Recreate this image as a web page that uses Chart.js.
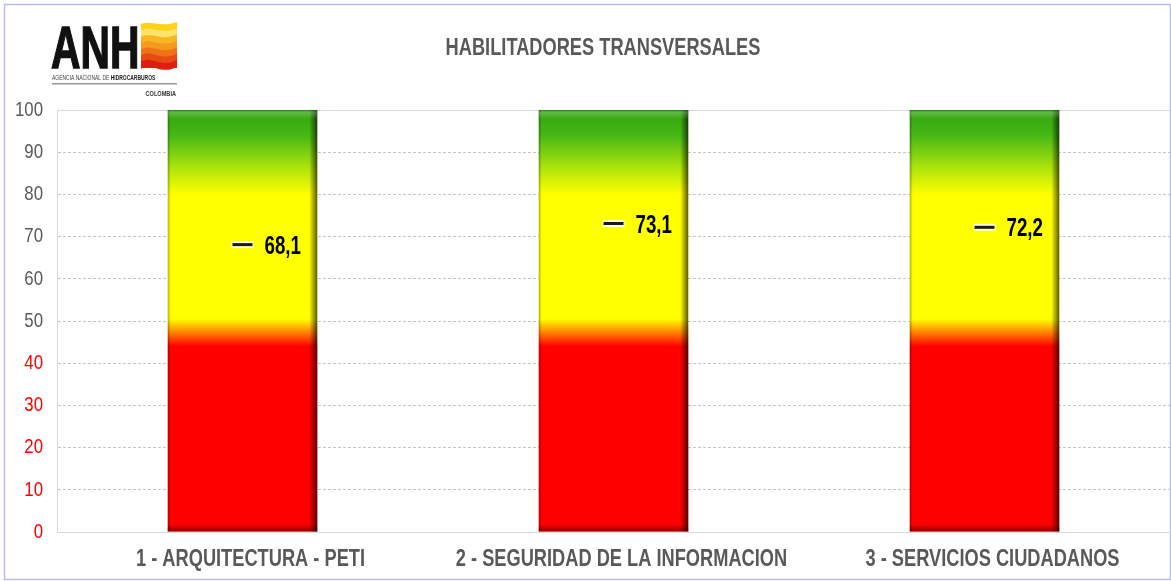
<!DOCTYPE html>
<html>
<head>
<meta charset="utf-8">
<script src="https://cdn.jsdelivr.net/npm/chart.js@4.4.0/dist/chart.umd.min.js"></script>
<style>
  html, body { margin: 0; padding: 0; background: #fff; }
  #wrap { width: 1171px; height: 581px; }
</style>
</head>
<body>
<div id="wrap"><canvas id="habChart" width="1171" height="581"></canvas></div>
<script>
const categories = ["1 - ARQUITECTURA - PETI", "2 - SEGURIDAD DE LA INFORMACION", "3 - SERVICIOS CIUDADANOS"];
const scaleTop = [100, 100, 100];
const scores = [68.1, 73.1, 72.2];
const yTicks = [0, 10, 20, 30, 40, 50, 60, 70, 80, 90, 100];

const sans = '"Liberation Sans", Arial, sans-serif';

// the source uses a narrow face, so squeeze Liberation Sans sideways
function narrowText(ctx, text, x, y, sx, align) {
    ctx.save();
    ctx.translate(x, y);
    ctx.scale(sx, 1);
    ctx.textAlign = align;
    ctx.fillText(text, 0, 0);
    ctx.restore();
}

function bandGradient(chart) {
    const area = chart.chartArea;
    if (!area) return '#ffff00';
    const g = chart.ctx.createLinearGradient(0, area.bottom, 0, area.top);
    g.addColorStop(0, '#ff0000');
    g.addColorStop(0.44, '#ff0000');
    g.addColorStop(0.475, '#ff8a00');
    g.addColorStop(0.505, '#ffff00');
    g.addColorStop(0.80, '#ffff00');
    g.addColorStop(0.87, '#a4e00c');
    g.addColorStop(0.94, '#46b814');
    g.addColorStop(1, '#30a410');
    return g;
}

// bevel look on the band bars
const bevel = {
    id: 'bevel',
    afterDatasetDraw(chart, args) {
        if (args.index !== 0) return;
        const ctx = chart.ctx;
        args.meta.data.forEach(bar => {
            const l = bar.x - bar.width / 2, r = bar.x + bar.width / 2;
            const t = bar.y, b = bar.base;
            ctx.save();
            let g = ctx.createLinearGradient(r - 8, 0, r, 0);
            g.addColorStop(0, 'rgba(0,0,0,0)');
            g.addColorStop(1, 'rgba(0,0,0,0.65)');
            ctx.fillStyle = g;
            ctx.fillRect(r - 8, t, 8, b - t);
            g = ctx.createLinearGradient(l, 0, l + 3, 0);
            g.addColorStop(0, 'rgba(0,0,0,0.3)');
            g.addColorStop(1, 'rgba(0,0,0,0)');
            ctx.fillStyle = g;
            ctx.fillRect(l, t, 3, b - t);
            g = ctx.createLinearGradient(0, b - 7, 0, b);
            g.addColorStop(0, 'rgba(0,0,0,0)');
            g.addColorStop(1, 'rgba(70,0,0,0.55)');
            ctx.fillStyle = g;
            ctx.fillRect(l, b - 7, r - l, 7);
            g = ctx.createLinearGradient(0, t, 0, t + 9);
            g.addColorStop(0, 'rgba(0,90,0,0.45)');
            g.addColorStop(0.3, 'rgba(255,255,255,0.22)');
            g.addColorStop(1, 'rgba(255,255,255,0)');
            ctx.fillStyle = g;
            ctx.fillRect(l, t, r - l, 9);
            ctx.restore();
        });
    }
};

// axis labels, drawn from the scales' own tick positions
const axisLabels = {
    id: 'axisLabels',
    afterDraw(chart) {
        const ctx = chart.ctx, xs = chart.scales.x, ys = chart.scales.y;
        ctx.save();
        ctx.textBaseline = 'middle';
        ctx.font = 'bold 24px ' + sans;
        ctx.fillStyle = '#595959';
        categories.forEach((c, i) => {
            narrowText(ctx, c, xs.getPixelForTick(i) + 8, 559, 0.76, 'center');
        });
        ctx.font = '21px ' + sans;
        ys.ticks.forEach(t => {
            ctx.fillStyle = t.value < 50 ? '#ff0000' : '#595959';
            narrowText(ctx, String(t.value), 43, ys.getPixelForValue(t.value), 0.8, 'right');
        });
        ctx.restore();
    }
};

// value labels next to the dashes
const valueLabels = {
    id: 'valueLabels',
    afterDatasetsDraw(chart) {
        const ctx = chart.ctx;
        const meta = chart.getDatasetMeta(2);
        ctx.save();
        ctx.font = 'bold 26px ' + sans;
        ctx.fillStyle = '#000';
        ctx.textBaseline = 'middle';
        meta.data.forEach((pt, i) => {
            narrowText(ctx, scores[i].toFixed(1).replace('.', ','), pt.x + 22, pt.y + 2, 0.72, 'left');
        });
        ctx.restore();
    }
};

// frame, title, logo, top grid line
const decor = {
    id: 'decor',
    beforeDraw(chart) {
        const ctx = chart.ctx;
        ctx.save();
        ctx.fillStyle = '#fff';
        ctx.fillRect(0, 0, chart.width, chart.height);
        ctx.strokeStyle = '#babaf2';
        ctx.lineWidth = 1.5;
        ctx.strokeRect(4.5, 4.5, 1166, 575);
        ctx.restore();
    },
    beforeDatasetsDraw(chart) {
        const ctx = chart.ctx, area = chart.chartArea;
        const y = Math.round(chart.scales.y.getPixelForValue(100)) + 0.5;
        ctx.save();
        ctx.strokeStyle = '#d9d9d9';
        ctx.lineWidth = 1;
        ctx.beginPath();
        ctx.moveTo(area.left, y);
        ctx.lineTo(area.right, y);
        ctx.stroke();
        ctx.restore();
    },
    afterDraw(chart) {
        const ctx = chart.ctx;
        ctx.save();
        ctx.textBaseline = 'alphabetic';
        // title
        ctx.font = 'bold 24px ' + sans;
        ctx.fillStyle = '#595959';
        narrowText(ctx, 'HABILITADORES TRANSVERSALES', 603, 55, 0.76, 'center');

        // logo letters
        ctx.font = 'bold 60px ' + sans;
        ctx.fillStyle = '#111';
        ctx.strokeStyle = '#111';
        ctx.lineWidth = 1.5;
        ctx.save();
        ctx.translate(51, 68);
        ctx.scale(0.68, 1);
        ctx.fillText('ANH', 0, 0);
        ctx.strokeText('ANH', 0, 0);
        ctx.restore();

        // logo stripes
        const stripes = ['#ffd21a', '#fde36a', '#f8b623', '#f49b1e', '#ef7418', '#e84a14', '#df1e12'];
        const sx = 141, sw = 36, sy = 24, sh = 44;
        const step = sh / stripes.length;
        stripes.forEach((c, i) => {
            const y0 = sy + i * step, y1 = y0 + step + 0.7;
            const w = 4 + i * 0.5;
            ctx.fillStyle = c;
            ctx.beginPath();
            ctx.moveTo(sx, y0);
            ctx.bezierCurveTo(sx + sw * 0.3, y0 - w, sx + sw * 0.55, y0 + w, sx + sw, y0 - 2);
            ctx.lineTo(sx + sw, y1 - 2);
            ctx.bezierCurveTo(sx + sw * 0.55, y1 + w, sx + sw * 0.3, y1 - w, sx, y1);
            ctx.closePath();
            ctx.fill();
        });
        ctx.fillStyle = '#df1e12';
        ctx.fillRect(sx, sy + sh - 5, sw, 5);

        // logo captions
        ctx.font = '8px ' + sans;
        ctx.fillStyle = '#444';
        const cap1 = 'AGENCIA NACIONAL DE ';
        narrowText(ctx, cap1, 52, 80, 0.62, 'left');
        const w1 = ctx.measureText(cap1).width * 0.62;
        ctx.font = 'bold 8px ' + sans;
        ctx.fillStyle = '#222';
        narrowText(ctx, 'HIDROCARBUROS', 52 + w1, 80, 0.62, 'left');
        ctx.fillStyle = '#9a9a9a';
        ctx.fillRect(52, 83, 125, 1.5);
        ctx.fillStyle = '#333';
        narrowText(ctx, 'COLOMBIA', 176, 96, 0.7, 'right');
        ctx.restore();
    }
};

new Chart(document.getElementById('habChart'), {
    type: 'bar',
    data: {
        labels: categories,
        datasets: [
            {
                type: 'bar',
                data: scaleTop,
                backgroundColor: ctx => bandGradient(ctx.chart),
                borderWidth: 0,
                barPercentage: 0.403,
                categoryPercentage: 1,
                order: 3
            },
            {
                type: 'line',
                data: scores,
                showLine: false,
                pointStyle: 'line',
                pointRadius: 11,
                pointBorderWidth: 7,
                pointBorderColor: 'rgba(255,255,255,0.85)',
                pointBackgroundColor: 'rgba(255,255,255,0.85)',
                order: 2
            },
            {
                type: 'line',
                data: scores,
                showLine: false,
                pointStyle: 'line',
                pointRadius: 10,
                pointBorderWidth: 3,
                pointBorderColor: '#1a1a1a',
                pointBackgroundColor: '#1a1a1a',
                order: 1
            }
        ]
    },
    options: {
        responsive: false,
        animation: false,
        layout: { autoPadding: false, padding: { top: 110, right: 1, bottom: 0, left: 0 } },
        plugins: {
            legend: { display: false },
            tooltip: { enabled: false }
        },
        scales: {
            x: {
                grid: { display: false },
                border: { display: true, color: '#d9d9d9', width: 1 },
                ticks: { display: false },
                afterFit(scale) { scale.height = 49; }
            },
            y: {
                min: 0,
                max: 100,
                afterBuildTicks(scale) { scale.ticks = yTicks.map(v => ({ value: v })); },
                grid: {
                    drawTicks: false,
                    color: ctx => (ctx.tick && (ctx.tick.value === 0 || ctx.tick.value === 100)) ? 'rgba(0,0,0,0)' : '#c4c4c4',
                    lineWidth: 1
                },
                border: { display: true, color: '#d9d9d9', width: 1, dash: [3, 2] },
                ticks: { display: false },
                afterFit(scale) { scale.width = 57; }
            }
        }
    },
    plugins: [decor, bevel, valueLabels, axisLabels]
});
</script>
</body>
</html>
